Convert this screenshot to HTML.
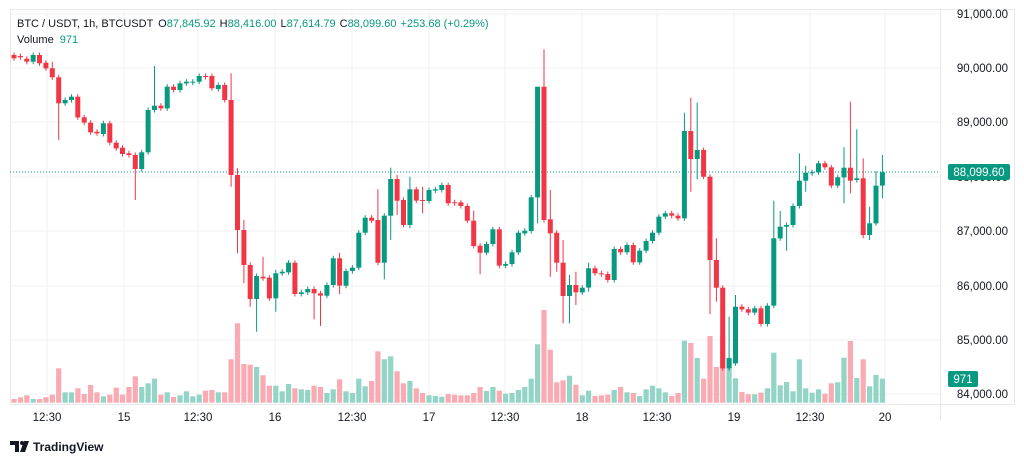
<!DOCTYPE html>
<html><head><meta charset="utf-8"><style>
html,body{margin:0;padding:0;background:#fff;width:1024px;height:462px;overflow:hidden;font-family:"Liberation Sans",sans-serif}
svg{position:absolute;left:0;top:0}
</style></head><body>
<svg id="c" width="1024" height="462" xmlns="http://www.w3.org/2000/svg"></svg>
<script>
const S=document.getElementById('c');let h='';
const priceY=[[91000,14],[90000,68],[89000,122],[88000,177],[87000,231],[86000,286],[85000,340],[84000,394]];
const times=[[47,'12:30'],[124,'15'],[198,'12:30'],[275,'16'],[352,'12:30'],[429,'17'],[505,'12:30'],[582,'18'],[657,'12:30'],[734,'19'],[810,'12:30'],[885,'20']];
priceY.forEach(p=>{h+=`<line x1="10" x2="940" y1="${p[1]}" y2="${p[1]}" stroke="#f2f2f2"/>`;});
times.forEach(t=>{h+=`<line x1="${t[0]}" x2="${t[0]}" y1="10" y2="404" stroke="#f2f2f2"/>`;});
h+=`<rect x="10.5" y="9.5" width="1004" height="395" fill="none" stroke="#e8e8e8"/>`;
h+=`<line x1="940.5" x2="940.5" y1="9" y2="420" stroke="#e8e8e8"/>`;
const vol=[267,262,256,267,267,262,254,175,247,247,235,252,225,247,259,254,233,254,231,199,231,220,206,254,247,261,256,244,259,254,242,240,247,247,148,40,162,164,171,196,227,227,244,222,235,238,240,227,231,249,238,208,244,249,206,229,213,124,148,139,184,220,213,235,249,256,258,260,252,254,256,256,249,231,243,231,242,251,249,240,231,206,103,0,119,217,211,197,224,256,242,258,256,254,240,231,247,249,258,238,227,235,247,258,249,92,99,144,206,78,171,78,143,205,246,253,253,248,235,128,226,216,244,148,235,248,238,251,220,217,143,93,204,148,229,195,206];
const C=[[45,55,0],[48,52,0],[56,65,0],[45,65,1],[45,70,0],[68,85,0],[85,112,0],[112,190,0],[180,190,1],[170,180,1],[170,232,0],[232,248,0],[248,277,0],[275,280,0],[250,282,1],[250,308,0],[308,325,0],[323,342,0],[340,345,0],[345,387,0],[337,387,1],[210,337,1],[197,210,1],[197,205,0],[140,205,1],[140,150,0],[130,150,1],[125,130,1],[125,127,1],[108,125,1],[108,110,0],[108,145,0],[135,147,1],[135,180,0],[180,405,0],[405,570,0],[570,675,0],[675,777,0],[708,777,1],[710,715,0],[713,775,0],[700,775,1],[695,700,1],[668,697,1],[668,762,0],
[757,762,1],[747,757,1],[747,760,0],[760,767,0],[735,767,1],[655,735,1],[655,737,0],[693,737,1],[683,693,1],[578,683,1],[533,578,1],[533,542,0],[540,668,0],[527,668,1],[417,527,1],[417,482,0],[480,555,0],[448,555,1],[448,482,0],[480,482,0],[450,483,1],[448,452,1],[435,450,1],[435,490,0],[487,490,0],[487,498,0],[498,542,0],[542,618,0],[617,638,0],[612,638,1],[568,612,1],[568,677,0],[672,677,1],[637,672,1],[578,637,1],[572,580,1],[472,573,1],[140,472,1],[140,540,0],[538,580,0],[578,668,0],[668,768,0],[735,768,1],[735,757,0],[743,757,1],[685,743,1],
[685,700,0],[700,702,0],[702,720,0],[627,720,1],[627,637,0],[615,637,1],[615,667,0],[632,667,1],[603,632,1],[578,603,1],[530,578,1],[520,530,1],[520,527,0],[527,535,0],[273,535,1],[273,357,0],[330,357,1],[330,410,0],[410,660,0],[660,743,0],[743,985,0],[955,985,1],[800,970,1],[800,808,0],[808,818,0],[805,818,1],[805,852,0],[797,852,1],[595,797,1],[560,595,1],[555,560,1],[498,555,1],[422,498,1],[398,422,1],[397,399,1],[370,397,1],[370,382,0],[382,437,0],[412,437,1],[383,412,1],[383,422,0],[415,420,1],[415,585,0],[550,585,1],[437,550,1],[397,437,1]];
const W={8:[null,300],20:[null,480],23:[78,null],7:[65,null],35:[100,440],36:[385,640],37:[540,730],38:[null,800],39:[null,875],40:[650,null],42:[690,815],
48:[null,838],49:[null,858],52:[638,762],58:[448,null],59:[null,718],60:[383,600],61:[405,525],62:[null,562],63:[410,565],65:[440,520],73:[512,null],74:[null,703],83:[435,550],84:[28,null],85:[450,710],86:[null,695],87:[600,850],88:[705,850],89:[695,795],91:[668,755],
106:[218,null],107:[173,455],108:[188,418],110:[null,822],111:[595,785],113:[830,null],114:[765,null],120:[482,null],121:[513,null],122:[null,632],124:[340,null],125:[377,455],131:[322,490],132:[185,460],133:[268,null],134:[355,595],135:[500,600],136:[393,null],137:[345,475]};
const dx=6.385,x0=14;
vol.forEach((v,i)=>{const g=C[i]?C[i][2]:1;const y=310+v/3;const x=x0+i*dx;h+=`<rect x="${(x-2.6).toFixed(1)}" y="${y.toFixed(1)}" width="5.2" height="${(402.7-y).toFixed(1)}" fill="${g?'#92d4c6':'#f9aab2'}"/>`;});
h+=`<line x1="10" x2="940" y1="172" y2="172" stroke="#089981" stroke-dasharray="1,2" stroke-width="1"/>`;
C.forEach((c,i)=>{const n=i+1;const x=x0+i*dx;let t=40+c[0]/3,b=40+c[1]/3;if(b-t<1)b=t+1;const col=c[2]?'#089981':'#f23645';
 const w=W[n]||[];const wt=w[0]!=null?40+w[0]/3:t-2.5;const wb=w[1]!=null?40+w[1]/3:b+2.5;
 h+=`<line x1="${x.toFixed(1)}" x2="${x.toFixed(1)}" y1="${wt.toFixed(1)}" y2="${wb.toFixed(1)}" stroke="${col}" stroke-width="1"/>`;
 h+=`<rect x="${(x-2.5).toFixed(1)}" y="${t.toFixed(1)}" width="5" height="${(b-t).toFixed(1)}" fill="${col}"/>`;});
priceY.forEach(p=>{h+=`<text x="1008" y="${p[1]+4}" font-size="11.5" fill="#131722" text-anchor="end">${p[0].toLocaleString('en-US')}.00</text>`;});
times.forEach(t=>{h+=`<text x="${t[0]}" y="421" font-size="11.5" fill="#131722" text-anchor="middle">${t[1]}</text>`;});
h+=`<rect x="948" y="164" width="62" height="16" rx="2" fill="#089981"/><text x="979" y="176" font-size="11.5" fill="#fff" text-anchor="middle">88,099.60</text>`;
h+=`<rect x="948" y="371" width="30" height="16" rx="2" fill="#089981"/><text x="963" y="383" font-size="11.5" fill="#fff" text-anchor="middle">971</text>`;
h+=`<text x="17" y="27" font-size="11" fill="#131722">BTC / USDT, 1h, BTCUSDT <tspan dx="2">O</tspan><tspan fill="#089981">87,845.92</tspan><tspan dx="4">H</tspan><tspan fill="#089981">88,416.00</tspan><tspan dx="4">L</tspan><tspan fill="#089981">87,614.79</tspan><tspan dx="4">C</tspan><tspan fill="#089981">88,099.60</tspan><tspan dx="4" fill="#089981">+253.68 (+0.29%)</tspan></text>`;
h+=`<text x="17" y="43" font-size="11" fill="#131722">Volume <tspan dx="3" fill="#089981">971</tspan></text>`;
h+=`<path d="M10 441h9v11h-4v-7h-5z M20 452l4-11h5l-4 11z" fill="#131722"/><circle cx="22" cy="443" r="2" fill="#131722"/>`;
h+=`<text x="33" y="451" font-size="12" font-weight="bold" fill="#131722">TradingView</text>`;
S.innerHTML=h;
</script>
</body></html>
